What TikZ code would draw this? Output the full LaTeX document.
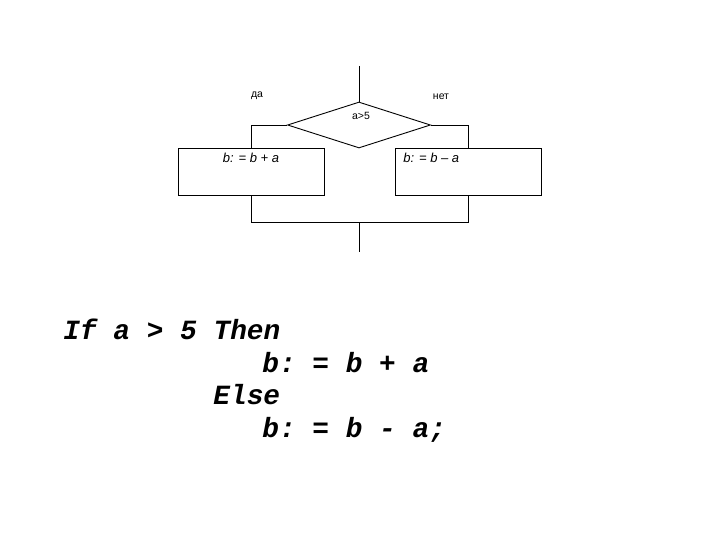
\documentclass[tikz,border=0pt]{standalone}
\usepackage{fontspec}
\setmainfont{Liberation Sans}
\setmonofont{Liberation Mono}
\usepackage{tikz}
\usetikzlibrary{shapes.geometric}
\usetikzlibrary{positioning}

\begin{document}
\begin{tikzpicture}[x=1pt,y=-1pt,line width=0.9pt,
                        cond node/.style={diamond,draw,inner sep=0pt,minimum width=143pt,minimum height=46pt},
                        act node/.style={rectangle,draw,inner sep=0pt,minimum width=146pt,minimum height=47pt},
                        small text/.style={font=\fontsize{10.5}{12}\selectfont},
                        box text/.style={inner sep=0pt,font=\fontsize{13}{15}\selectfont\itshape},
                        code line/.style={anchor=base west,inner sep=0pt,font=\fontsize{27.8}{30}\selectfont\ttfamily\bfseries\itshape}]

      \useasboundingbox (0,0) rectangle (720,540);

      \coordinate (in) at (359,66);
      \node[cond node] (cond) at (359,125) {};
      \node[small text] (condtext) at (361,116) {a>5};
      \node[act node] (yes) at (251,171.5) {};
      \node[act node] (no) at (468.5,171.5) {};
      \node[box text,anchor=base] (yestext) at (251,163) {b: = b + a};
      \node[box text,anchor=base west] (notext) at (403,163) {b: = b -- a};
      \node[small text] (da) at (257,96) {да};
      \node[small text] (net) at (441,97) {нет};
      \coordinate (join) at (359,222.5);
      \coordinate (out) at (359,252);

      \path[draw]
        (in) edge (cond.north)
        (join) edge (out);
      \draw (cond.west) -| (yes.north);
      \draw (cond.east) -| (no.north);
      \draw (yes.south) -- (yes.south |- join) -- (no.south |- join) -- (no.south);

      \node[code line] (l1) at (63,339) {If a > 5 Then};
      \node[code line] (l2) at (262,372) {b: = b + a};
      \node[code line] (l3) at (213,404) {Else};
      \node[code line] (l4) at (262,437) {b: = b - a;};
    \end{tikzpicture}
\end{document}
